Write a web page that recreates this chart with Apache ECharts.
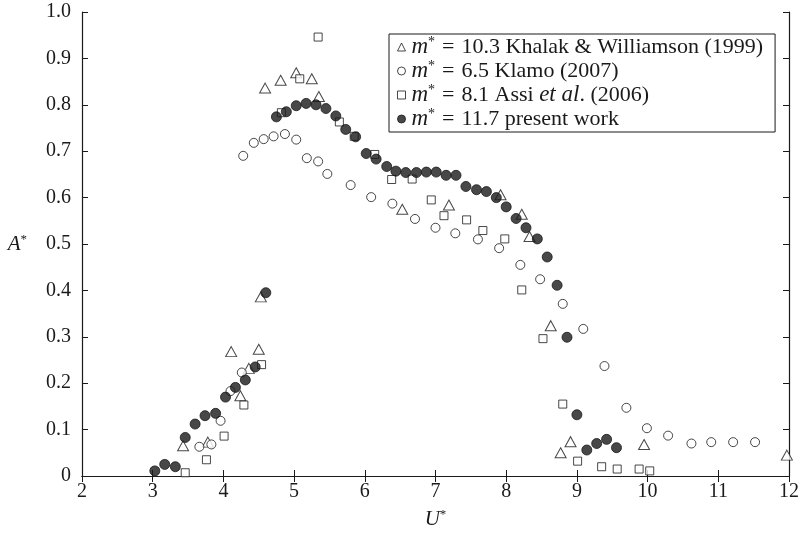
<!DOCTYPE html>
<html>
<head>
<meta charset="utf-8">
<script src="https://cdn.jsdelivr.net/npm/echarts@6/dist/echarts.min.js"></script>
<style>
  html, body { margin: 0; padding: 0; background: #fff; }
  #chart { width: 802px; height: 536px; }
</style>
</head>
<body>
<div id="chart"></div>
<script>
// Amplitude response A* against reduced velocity U*
const khalak = [
  [3.43,0.065],[3.78,0.073],[4.11,0.268],[4.24,0.173],[4.36,0.232],[4.50,0.273],[4.53,0.386],
  [4.59,0.836],[4.81,0.853],[5.03,0.869],[5.25,0.856],[5.35,0.818],[6.53,0.575],[7.19,0.584],
  [7.92,0.606],[8.22,0.564],[8.33,0.516],[8.63,0.324],[8.77,0.050],[8.91,0.074],[9.95,0.068],
  [11.97,0.045]
];
const klamo = [
  [3.66,0.063],[3.83,0.068],[3.96,0.119],[4.10,0.183],[4.26,0.223],[4.28,0.690],[4.43,0.718],
  [4.57,0.726],[4.71,0.732],[4.87,0.737],[5.03,0.725],[5.18,0.685],[5.34,0.678],[5.47,0.651],
  [5.80,0.627],[6.09,0.601],[6.39,0.587],[6.71,0.554],[7.00,0.535],[7.28,0.523],[7.60,0.510],
  [7.90,0.491],[8.20,0.455],[8.48,0.424],[8.80,0.371],[9.09,0.317],[9.39,0.237],[9.70,0.147],
  [9.99,0.103],[10.29,0.087],[10.62,0.070],[10.90,0.073],[11.21,0.073],[11.52,0.073]
];
const assi = [
  [3.46,0.007],[3.76,0.035],[4.01,0.086],[4.29,0.153],[4.54,0.240],[4.82,0.783],[5.08,0.856],
  [5.34,0.946],[5.64,0.763],[5.85,0.732],[6.14,0.693],[6.38,0.639],[6.67,0.640],[6.94,0.595],
  [7.12,0.561],[7.44,0.552],[7.67,0.529],[7.98,0.511],[8.22,0.401],[8.52,0.296],[8.80,0.155],
  [9.01,0.032],[9.35,0.020],[9.57,0.015],[9.88,0.015],[10.03,0.011]
];
const present = [
  [3.03,0.011],[3.17,0.025],[3.32,0.020],[3.46,0.083],[3.60,0.112],[3.74,0.130],[3.89,0.135],
  [4.03,0.170],[4.17,0.191],[4.31,0.207],[4.45,0.235],[4.60,0.395],[4.75,0.774],[4.89,0.785],
  [5.03,0.798],[5.17,0.803],[5.31,0.800],[5.45,0.792],[5.59,0.776],[5.73,0.747],[5.87,0.731],
  [6.02,0.695],[6.16,0.683],[6.31,0.667],[6.44,0.657],[6.58,0.654],[6.73,0.654],[6.87,0.655],
  [7.01,0.655],[7.15,0.648],[7.29,0.648],[7.43,0.624],[7.58,0.617],[7.72,0.613],[7.86,0.600],
  [8.00,0.580],[8.14,0.555],[8.28,0.535],[8.44,0.511],[8.58,0.472],[8.72,0.411],[8.86,0.299],
  [9.00,0.132],[9.14,0.056],[9.28,0.070],[9.42,0.079],[9.56,0.061]
];

const SERIF = '"Liberation Serif", "DejaVu Serif", serif';
const INK = '#1a1a1a';
const FS = 20;

function richSet(size) {
  return {
    i: { fontFamily: SERIF, fontStyle: 'italic', fontSize: size + 1, color: INK },
    s: { fontFamily: SERIF, fontSize: Math.round(size * 0.65), color: INK, padding: [0, 0, Math.round(size * 0.45), 0] },
    e: { fontFamily: SERIF, fontSize: size, color: INK, padding: [0, 7, 0, 7] },
    t: { fontFamily: SERIF, fontSize: size, color: INK }
  };
}

const legendText = {
  khalak: '{i|m}{s|*}{e|=}{t|10.3 Khalak & Williamson (1999)}',
  klamo: '{i|m}{s|*}{e|=}{t|6.5 Klamo (2007)}',
  assi: '{i|m}{s|*}{e|=}{t|8.1 Assi }{i|et al}{t|. (2006)}',
  present: '{i|m}{s|*}{e|=}{t|11.7 present work}'
};

const axisLine = { show: true, lineStyle: { color: INK, width: 1.2 } };
const axisTick = { show: true, inside: true, length: 6, lineStyle: { color: INK, width: 1 } };

const chart = echarts.init(document.getElementById('chart'), null, { renderer: 'canvas' });

function scatter(name, data, symbol, size, fill) {
  return {
    name: name, type: 'scatter', data: data,
    symbol: symbol, symbolSize: size,
    itemStyle: { color: fill, borderColor: INK, borderWidth: 1 },
    emphasis: { disabled: true },
    z: 3
  };
}

chart.setOption({
  animation: false,
  backgroundColor: '#fff',
  grid: { left: 82, right: 11, top: 12, bottom: 60 },
  legend: {
    orient: 'vertical',
    left: 389, top: 34,
    padding: [1, 12, 1, 8],
    borderColor: INK, borderWidth: 1,
    itemWidth: 8, itemHeight: 8, itemGap: 0,
    selectedMode: false,
    data: [
      { name: 'khalak', icon: 'triangle', itemStyle: { color: '#fff', borderColor: INK, borderWidth: 1 } },
      { name: 'klamo', icon: 'circle', itemStyle: { color: '#fff', borderColor: INK, borderWidth: 1 } },
      { name: 'assi', icon: 'rect', itemStyle: { color: '#fff', borderColor: INK, borderWidth: 1 } },
      { name: 'present', icon: 'circle', itemStyle: { color: INK, borderColor: INK, borderWidth: 1 } }
    ],
    formatter: n => legendText[n],
    textStyle: { rich: richSet(22), lineHeight: 24, padding: [0, 0, 0, 1] }
  },
  xAxis: [{
    type: 'value', min: 2, max: 12, interval: 1,
    name: '{i|U}{s|*}', nameLocation: 'middle', nameGap: 32,
    nameTextStyle: { rich: richSet(FS) },
    axisLine: axisLine, axisTick: axisTick, splitLine: { show: false },
    axisLabel: { fontFamily: SERIF, fontSize: FS, color: INK, margin: 6 }
  }, {
    type: 'value', position: 'top', min: 2, max: 12, interval: 1,
    axisLine: axisLine, axisTick: axisTick, splitLine: { show: false },
    axisLabel: { show: false }
  }],
  yAxis: [{
    type: 'value', min: 0, max: 1, interval: 0.1,
    name: '{i|A}{s|*}', nameLocation: 'middle', nameGap: 55, nameRotate: 0,
    nameTextStyle: { rich: richSet(FS) },
    axisLine: axisLine, axisTick: axisTick, splitLine: { show: false },
    axisLabel: {
      fontFamily: SERIF, fontSize: FS, color: INK, margin: 11,
      formatter: v => (v === 0 ? '0' : v.toFixed(1))
    }
  }, {
    type: 'value', position: 'right', min: 0, max: 1, interval: 0.1,
    axisLine: axisLine, axisTick: axisTick, splitLine: { show: false },
    axisLabel: { show: false }
  }],
  series: [
    scatter('khalak', khalak, 'triangle', [11, 10], '#fff'),
    scatter('klamo', klamo, 'circle', 9, '#fff'),
    scatter('assi', assi, 'rect', 8, '#fff'),
    scatter('present', present, 'circle', 10, INK)
  ]
});
</script>
</body>
</html>
